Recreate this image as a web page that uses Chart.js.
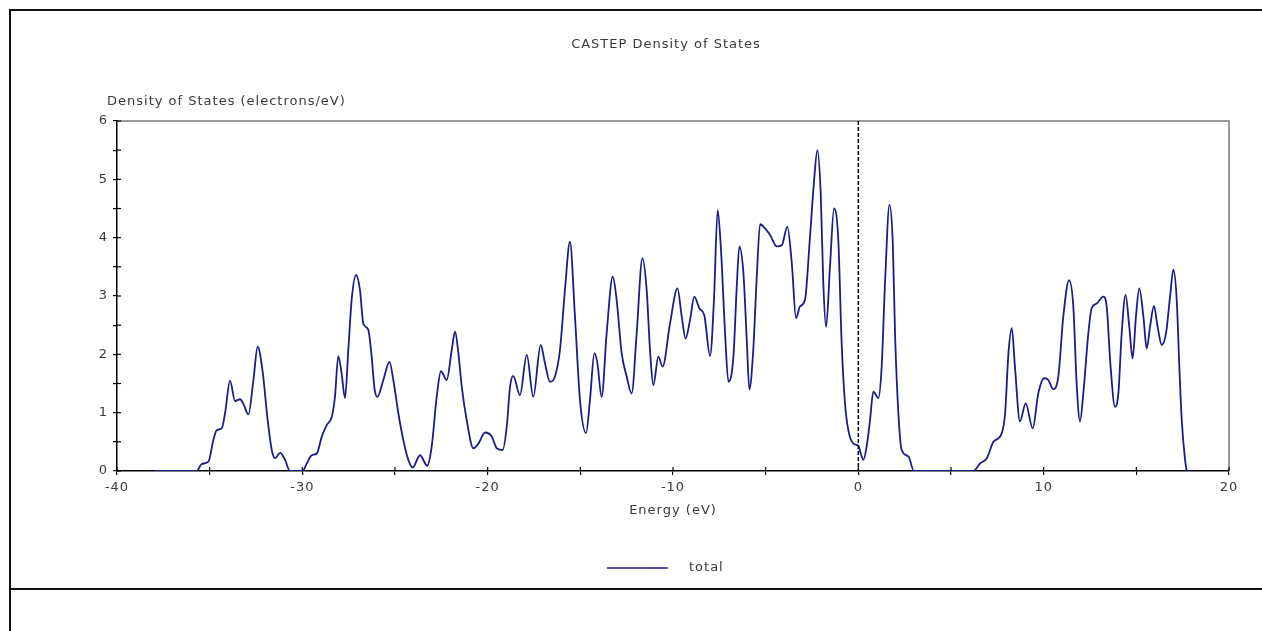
<!DOCTYPE html>
<html>
<head>
<meta charset="utf-8">
<title>CASTEP Density of States</title>
<script src="https://cdn.jsdelivr.net/npm/chart.js@4.4.1/dist/chart.umd.min.js"></script>
<style>
  html, body { margin: 0; padding: 0; background: #fff; }
  #wrap { width: 1262px; height: 631px; position: relative; }
</style>
</head>
<body>
<div id="wrap"><canvas id="dosChart" width="1262" height="631"></canvas></div>
<script>
// Values
const chartTitle = 'CASTEP Density of States';
const xTitle = 'Energy (eV)';
const yTitle = 'Density of States (electrons/eV)';
const seriesLabel = 'total';

const energy = [
  -38, -35.7, -35.43, -35.07, -34.8, -34.62, -34.35, -34.17, -33.9, -33.63,
  -33.36, -33.18, -32.91, -32.64, -32.41, -32.14, -31.89, -31.65, -31.47, -31.2,
  -30.93, -30.67, -29.98, -29.76, -29.49, -29.22, -28.95, -28.68, -28.41, -28.24,
  -28.06, -27.88, -27.7, -27.52, -27.34, -27.1, -26.89, -26.71, -26.44, -26.26,
  -26.1, -25.95, -25.63, -25.3, -25.09, -24.82, -24.55, -24.28, -24.05, -23.65,
  -23.26, -23.02, -22.75, -22.52, -22.21, -21.94, -21.76, -21.58, -21.4, -21.13,
  -20.77, -20.5, -20.14, -19.78, -19.51, -19.19, -18.97, -18.79, -18.62, -18.26,
  -17.89, -17.54, -17.14, -16.91, -16.64, -16.37, -16.1, -15.83, -15.56, -15.29,
  -15.02, -14.69, -14.48, -14.24, -14.08, -13.85, -13.58, -13.25, -13.04, -12.77,
  -12.5, -12.23, -11.96, -11.65, -11.42, -11.24, -11.06, -10.79, -10.56, -10.16,
  -9.76, -9.53, -9.32, -9.08, -8.85, -8.58, -8.31, -8.0, -7.79, -7.59,
  -7.41, -7.19, -7.01, -6.74, -6.56, -6.42, -6.2, -6.02, -5.88, -5.67,
  -5.48, -5.3, -5.04, -4.77, -4.4, -4.13, -3.83, -3.59, -3.36, -3.15,
  -2.88, -2.62, -2.4, -2.21, -2.03, -1.89, -1.74, -1.53, -1.31, -1.08,
  -0.9, -0.72, -0.54, -0.27, 0.0, 0.13, 0.27, 0.45, 0.63, 0.81,
  1.08, 1.26, 1.44, 1.68, 1.86, 1.98, 2.16, 2.34, 2.7, 3.0,
  6.21, 6.57, 6.93, 7.29, 7.74, 7.92, 8.1, 8.28, 8.45, 8.72,
  9.03, 9.41, 9.71, 10.02, 10.25, 10.52, 10.79, 11.06, 11.37, 11.6,
  11.78, 11.96, 12.14, 12.41, 12.59, 12.86, 13.22, 13.4, 13.61, 13.85,
  14.03, 14.21, 14.42, 14.62, 14.8, 14.98, 15.16, 15.38, 15.56, 15.74,
  15.95, 16.15, 16.37, 16.6, 16.82, 17.0, 17.18, 17.32, 17.45, 17.63,
  17.72
];

const dos = [
  0, 0, 0.12, 0.16, 0.53, 0.70, 0.73, 0.99, 1.55, 1.20,
  1.23, 1.15, 0.97, 1.56, 2.13, 1.70, 0.93, 0.36, 0.22, 0.31,
  0.19, 0, 0, 0.13, 0.27, 0.30, 0.59, 0.79, 0.93, 1.27,
  1.97, 1.67, 1.25, 2.07, 2.93, 3.36, 3.10, 2.53, 2.42, 1.96,
  1.40, 1.27, 1.56, 1.87, 1.56, 0.99, 0.53, 0.19, 0.06, 0.27,
  0.09, 0.42, 1.27, 1.71, 1.56, 2.07, 2.39, 2.02, 1.45, 0.87,
  0.39, 0.47, 0.66, 0.59, 0.39, 0.36, 0.76, 1.45, 1.63, 1.30,
  1.99, 1.27, 2.16, 1.85, 1.53, 1.62, 2.07, 3.10, 3.93, 2.65,
  1.22, 0.65, 1.22, 2.02, 1.85, 1.27, 2.36, 3.33, 2.93, 2.02,
  1.62, 1.33, 2.36, 3.65, 3.10, 2.07, 1.47, 1.96, 1.79, 2.53,
  3.13, 2.65, 2.27, 2.59, 2.99, 2.79, 2.67, 1.97, 2.93, 4.47,
  3.79, 2.36, 1.53, 1.96, 3.16, 3.85, 3.39, 2.25, 1.40, 2.07,
  3.33, 4.23, 4.16, 4.05, 3.85, 3.87, 4.19, 3.56, 2.62, 2.82,
  2.93, 3.96, 4.93, 5.50, 4.76, 3.22, 2.47, 3.50, 4.50, 3.96,
  2.19, 1.16, 0.70, 0.47, 0.43, 0.30, 0.19, 0.42, 0.87, 1.36,
  1.25, 1.79, 3.22, 4.56, 3.90, 2.36, 0.99, 0.36, 0.25, 0,
  0, 0.13, 0.22, 0.50, 0.65, 0.99, 2.02, 2.45, 1.79, 0.85,
  1.16, 0.73, 1.33, 1.59, 1.56, 1.40, 1.62, 2.65, 3.27, 2.82,
  1.50, 0.85, 1.33, 2.36, 2.79, 2.87, 2.99, 2.82, 1.79, 1.10,
  1.33, 2.36, 3.02, 2.47, 1.93, 2.65, 3.13, 2.65, 2.10, 2.47,
  2.83, 2.47, 2.16, 2.36, 2.99, 3.45, 2.93, 1.79, 0.87, 0.19,
  0
];

const fermiLevel = 0;

const lineColor = '#1c1c86';
const textColor = '#3a3a3a';
const fontFamily = '"DejaVu Sans", Verdana, sans-serif';

// Extra decorations: frame, titles, legend, ticks crossing the axes
const decorations = {
  id: 'decorations',
  beforeDraw(chart) {
    // the reference text is set wide, so space the letters a bit
    chart.ctx.letterSpacing = '1px';
  },
  afterDraw(chart) {
    const ctx = chart.ctx;
    const area = chart.chartArea;
    const xs = chart.scales.x;
    const ys = chart.scales.y;

    ctx.save();

    // top and right border of the plot box (grey)
    ctx.strokeStyle = '#7a7a7a';
    ctx.lineWidth = 1.5;
    ctx.beginPath();
    ctx.moveTo(area.left, area.top);
    ctx.lineTo(area.right, area.top);
    ctx.lineTo(area.right, area.bottom);
    ctx.stroke();

    // Fermi level dashed line
    const fx = xs.getPixelForValue(fermiLevel);
    ctx.strokeStyle = '#000';
    ctx.setLineDash([4, 2]);
    ctx.beginPath();
    ctx.moveTo(fx, area.top);
    ctx.lineTo(fx, area.bottom);
    ctx.stroke();
    ctx.setLineDash([]);

    // inner half of tick marks
    ctx.lineWidth = 1.2;
    xs.ticks.forEach(t => {
      const px = xs.getPixelForValue(t.value);
      ctx.beginPath();
      ctx.moveTo(px, area.bottom);
      ctx.lineTo(px, area.bottom - 4);
      ctx.stroke();
    });
    ys.ticks.forEach(t => {
      const py = ys.getPixelForValue(t.value);
      ctx.beginPath();
      ctx.moveTo(area.left, py);
      ctx.lineTo(area.left + 4, py);
      ctx.stroke();
    });

    // outer frame
    ctx.strokeStyle = '#111';
    ctx.lineWidth = 2;
    ctx.beginPath();
    ctx.moveTo(10, 631);
    ctx.lineTo(10, 10);
    ctx.lineTo(1262, 10);
    ctx.moveTo(10, 589);
    ctx.lineTo(1262, 589);
    ctx.stroke();

    // texts
    ctx.fillStyle = textColor;
    ctx.font = '13px ' + fontFamily;
    ctx.letterSpacing = '1px';
    ctx.textBaseline = 'middle';
    ctx.textAlign = 'center';
    ctx.fillText(chartTitle, 666, 45);
    ctx.fillText(xTitle, 673, 511);
    ctx.textAlign = 'left';
    ctx.fillText(yTitle, 107, 102);

    // legend
    const ds = chart.data.datasets[0];
    ctx.strokeStyle = ds.borderColor;
    ctx.lineWidth = 1.5;
    ctx.beginPath();
    ctx.moveTo(607, 568);
    ctx.lineTo(668, 568);
    ctx.stroke();
    ctx.fillText(ds.label, 689, 568);

    ctx.restore();
  }
};

new Chart(document.getElementById('dosChart'), {
  type: 'line',
  data: {
    datasets: [{
      label: seriesLabel,
      data: energy.map((e, i) => ({ x: e, y: dos[i] })),
      borderColor: lineColor,
      borderWidth: 1.8,
      pointRadius: 0,
      fill: false,
      cubicInterpolationMode: 'monotone'
    }]
  },
  options: {
    responsive: false,
    animation: false,
    layout: { padding: { left: 0, top: 121, right: 33, bottom: 0 } },
    plugins: {
      legend: { display: false },
      title: { display: false },
      tooltip: { enabled: false }
    },
    scales: {
      x: {
        type: 'linear',
        min: -40,
        max: 20,
        afterFit(scale) { scale.height = 160; },
        ticks: {
          stepSize: 5,
          autoSkip: false,
          maxRotation: 0,
          padding: 5,
          color: textColor,
          font: { family: fontFamily, size: 13 },
          callback: v => (v % 10 === 0 ? v : '')
        },
        grid: { display: true, drawOnChartArea: false, tickLength: 4, color: '#000', lineWidth: 1.2 },
        border: { display: true, color: '#000', width: 1.5 }
      },
      y: {
        min: 0,
        max: 6,
        afterFit(scale) { scale.width = 117; },
        ticks: {
          stepSize: 0.5,
          autoSkip: false,
          padding: 5,
          color: textColor,
          font: { family: fontFamily, size: 13 },
          callback: v => (Number.isInteger(v) ? v : '')
        },
        grid: { display: true, drawOnChartArea: false, tickLength: 4, color: '#000', lineWidth: 1.2 },
        border: { display: true, color: '#000', width: 1.5 }
      }
    }
  },
  plugins: [decorations]
});
</script>
</body>
</html>
